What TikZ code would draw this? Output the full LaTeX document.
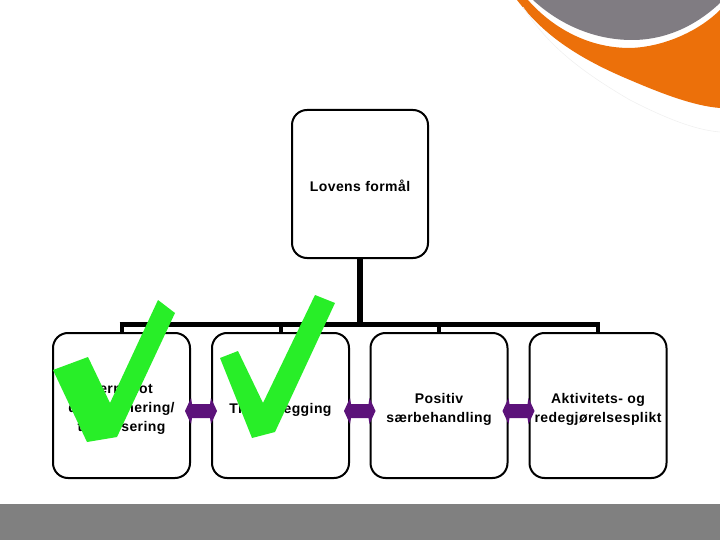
\documentclass[tikz,border=0pt]{standalone}
\usepackage{fontspec}
\setmainfont{Liberation Sans}[LetterSpace=3]
\usetikzlibrary{calc}
\definecolor{orng}{RGB}{236,112,10}
\definecolor{swgray}{RGB}{128,124,130}
\definecolor{barg}{RGB}{128,128,128}
\definecolor{arrpurple}{RGB}{92,18,122}
\definecolor{chk}{RGB}{40,238,40}
\newcommand\dblarr[2]{%
  \path let \p1=(#1.east), \p2=(#2.west) in
    [fill=arrpurple]
    (\x1-6pt,\y1-5.5pt) -- (\x1,\y1+7.5pt) -- (\x1+1pt,\y1+1.5pt) -- (\x2-1pt,\y1+1.5pt)
    -- (\x2,\y1+7.5pt) -- (\x2+6pt,\y1-5.5pt) -- (\x2,\y1-18.5pt) -- (\x2-1pt,\y1-12.5pt)
    -- (\x1+1pt,\y1-12.5pt) -- (\x1,\y1-18.5pt) -- cycle;}
\begin{document}
\begin{tikzpicture}[x=1pt,y=-1pt,
  box/.style={draw=black,line width=2pt,fill=white,rounded corners=15pt,inner sep=0pt},
  topbox/.style={box,minimum width=136pt,minimum height=148pt},
  lowbox/.style={box,minimum width=137pt,minimum height=145pt},
  txt/.style={align=center,inner sep=0pt,font=\fontsize{14}{19}\selectfont\bfseries},
  conn/.style={line width=5.5pt},
  tick/.style={line width=4pt},
  check/.style={fill=chk}]
\useasboundingbox (0,0) rectangle (720,540);
% background decoration
\fill[orng] (517,0) .. controls (540,30) and (570,55) .. (630,80)
  .. controls (665,95) and (695,106) .. (720,108) -- (720,10)
  .. controls (700,30) and (665,47) .. (630,48)
  .. controls (585,48) and (550,25) .. (528,0) -- cycle;
\fill[swgray] (533,0) .. controls (560,25) and (595,40) .. (632,40)
  .. controls (670,40) and (700,22) .. (720,3) -- (720,0) -- cycle;
\draw[gray!12,line width=0.6pt] (523,7) .. controls (545,40) and (570,65) .. (630,100)
  .. controls (665,118) and (695,130) .. (720,132);
\fill[barg] (0,504) rectangle (720,540);
% connectors (drawn first, boxes cover their ends)
\coordinate (bar) at (360,324.5);
\coordinate (c1) at (121.5,405.5);
\coordinate (c2) at (280.5,405.5);
\coordinate (c3) at (439,405.5);
\coordinate (c4) at (598,405.5);
\draw[conn] (360,258) -- (bar);
\draw[conn] ([xshift=-2pt]c1 |- bar) -- ([xshift=2pt]c4 |- bar);
\foreach \c in {c1,c2,c3,c4} \draw[tick] (\c |- bar) -- ([yshift=-70pt]\c);
% boxes
\node[topbox] (top) at (360,184) {};
\node[lowbox] (b1) at (c1) {};
\node[lowbox] (b2) at (c2) {};
\node[lowbox] (b3) at (c3) {};
\node[lowbox] (b4) at (c4) {};
% texts
\node[txt] (t0) at ([yshift=-2pt]top.center) {Lovens formål};
\node[txt] (t1) at ([yshift=-4pt]b1.center) {Vern mot\\diskriminering/\\trakassering};
\node[txt] (t2) at ([yshift=-4pt]b2.center) {Tilrettelegging};
\node[txt] (t3) at ([yshift=-4pt]b3.center) {Positiv\\særbehandling};
\node[txt] (t4) at ([yshift=-4pt]b4.center) {Aktivitets- og\\redegjørelsesplikt};
% double arrows
\dblarr{b1}{b2}
\dblarr{b2}{b3}
\dblarr{b3}{b4}
% check marks
\fill[check] (53,370) -- (88,357) -- (110,403) -- (158,300) -- (175,313) -- (117,437) -- (87,442) -- cycle;
\fill[check] (220,358) -- (238,351) -- (263,403) -- (315,295) -- (335,303) -- (275,432) -- (252,438) -- cycle;
\end{tikzpicture}
\end{document}
